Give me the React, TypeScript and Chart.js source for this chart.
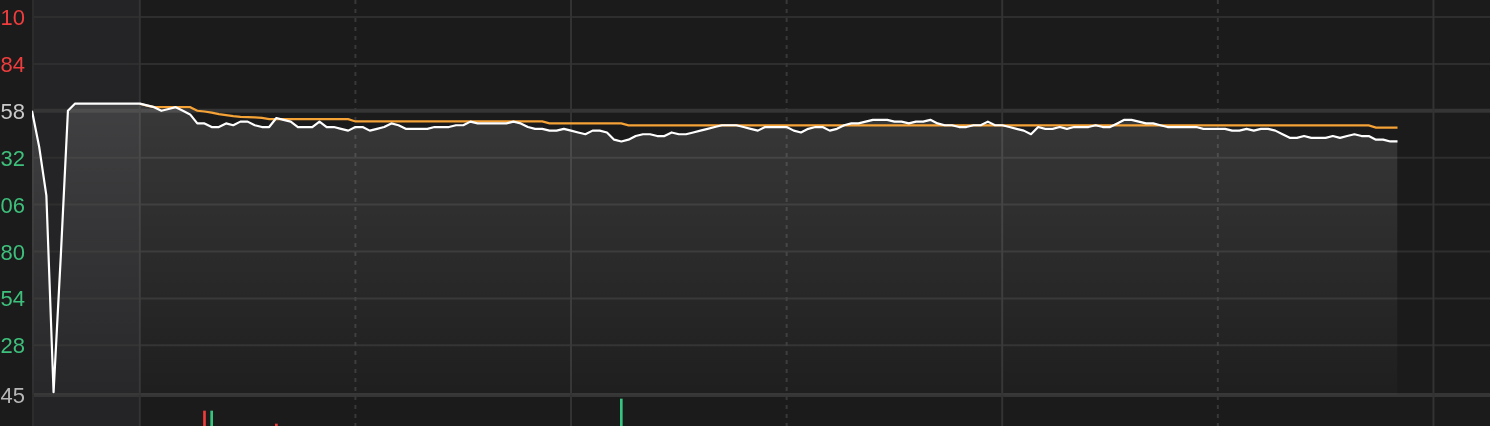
import React, { useEffect, useRef } from "react";
import { Chart, registerables } from "chart.js";

Chart.register(...registerables);

// ---- axis / tick data ----
const PRICE_TICKS = [13.1, 12.84, 12.58, 12.32, 12.06, 11.8, 11.54, 11.28, 11.005];
const PRICE_TICK_LABELS = ["10", "84", "58", "32", "06", "80", "54", "28", "45"];
const PRICE_TICK_COLORS = [
  "#ef3d3d", "#ef3d3d", "#c9c9c9", "#3ec07c", "#3ec07c",
  "#3ec07c", "#3ec07c", "#3ec07c", "#b8b8b8",
];
const PREV_CLOSE = 12.58;
const PANE_BOTTOM = 11.005;
const Y_MIN = 10.8327;
const Y_MAX = 13.1942;
const X_MIN = 0; // minutes since 09:15
const X_MAX = 202.87;
const OPEN_MINUTE = 15; // 09:30
const TIME_GRID = [15, 45, 75, 105, 135, 165, 195];
const TIME_GRID_DASHED = [false, true, false, true, false, true, false];

// ---- series: one value per minute from 09:15 ----
const PRICE = [
  12.58, 12.38, 12.11, 11.02, 11.77, 12.58, 12.62, 12.62, 12.62, 12.62,
  12.62, 12.62, 12.62, 12.62, 12.62, 12.62, 12.61, 12.60, 12.58, 12.59,
  12.60, 12.58, 12.56, 12.51, 12.51, 12.49, 12.49, 12.51, 12.50, 12.52,
  12.52, 12.50, 12.49, 12.49, 12.54, 12.53, 12.52, 12.49, 12.49, 12.49,
  12.52, 12.49, 12.49, 12.48, 12.47, 12.49, 12.49, 12.47, 12.48, 12.49,
  12.51, 12.50, 12.48, 12.48, 12.48, 12.48, 12.49, 12.49, 12.49, 12.50,
  12.50, 12.52, 12.51, 12.51, 12.51, 12.51, 12.51, 12.52, 12.51, 12.49,
  12.48, 12.48, 12.47, 12.47, 12.48, 12.47, 12.46, 12.45, 12.47, 12.47,
  12.46, 12.42, 12.41, 12.42, 12.44, 12.45, 12.45, 12.44, 12.44, 12.46,
  12.45, 12.45, 12.46, 12.47, 12.48, 12.49, 12.50, 12.50, 12.50, 12.49,
  12.48, 12.47, 12.49, 12.49, 12.49, 12.49, 12.47, 12.46, 12.48, 12.49,
  12.49, 12.47, 12.48, 12.50, 12.51, 12.51, 12.52, 12.53, 12.53, 12.53,
  12.52, 12.52, 12.51, 12.52, 12.52, 12.53, 12.51, 12.50, 12.50, 12.49,
  12.49, 12.50, 12.50, 12.52, 12.50, 12.50, 12.49, 12.48, 12.47, 12.45,
  12.49, 12.48, 12.48, 12.49, 12.48, 12.49, 12.49, 12.49, 12.50, 12.49,
  12.49, 12.51, 12.53, 12.53, 12.52, 12.51, 12.51, 12.50, 12.49, 12.49,
  12.49, 12.49, 12.49, 12.48, 12.48, 12.48, 12.48, 12.47, 12.47, 12.48,
  12.47, 12.48, 12.48, 12.47, 12.45, 12.43, 12.43, 12.44, 12.43, 12.43,
  12.43, 12.44, 12.43, 12.44, 12.45, 12.44, 12.44, 12.42, 12.42, 12.41,
  12.41,
];

// average price, one value per minute from 09:30
const AVG = [
  12.619, 12.609, 12.600, 12.600, 12.600, 12.600, 12.600, 12.600, 12.580, 12.576,
  12.570, 12.562, 12.556, 12.550, 12.546, 12.545, 12.543, 12.541, 12.534, 12.534,
  12.534, 12.534, 12.534, 12.534, 12.534, 12.534, 12.534, 12.534, 12.534, 12.534,
  12.521, 12.521, 12.521, 12.521, 12.521, 12.521, 12.521, 12.521, 12.521, 12.521,
  12.521, 12.521, 12.521, 12.521, 12.521, 12.521, 12.521, 12.521, 12.521, 12.521,
  12.521, 12.521, 12.521, 12.521, 12.521, 12.521, 12.521, 12.510, 12.510, 12.510,
  12.510, 12.510, 12.510, 12.510, 12.510, 12.510, 12.510, 12.510, 12.499, 12.499,
  12.499, 12.499, 12.499, 12.499, 12.499, 12.499, 12.499, 12.499, 12.499, 12.499,
  12.499, 12.499, 12.499, 12.499, 12.499, 12.499, 12.499, 12.499, 12.499, 12.499,
  12.499, 12.499, 12.499, 12.499, 12.499, 12.499, 12.499, 12.499, 12.499, 12.499,
  12.499, 12.499, 12.499, 12.499, 12.499, 12.499, 12.499, 12.499, 12.499, 12.499,
  12.499, 12.499, 12.499, 12.499, 12.499, 12.499, 12.499, 12.499, 12.499, 12.499,
  12.499, 12.499, 12.499, 12.499, 12.499, 12.499, 12.499, 12.499, 12.499, 12.499,
  12.499, 12.499, 12.499, 12.499, 12.499, 12.499, 12.499, 12.499, 12.499, 12.499,
  12.499, 12.499, 12.499, 12.499, 12.499, 12.499, 12.499, 12.499, 12.499, 12.499,
  12.499, 12.499, 12.499, 12.499, 12.499, 12.499, 12.499, 12.499, 12.499, 12.499,
  12.499, 12.499, 12.499, 12.499, 12.499, 12.499, 12.499, 12.499, 12.499, 12.499,
  12.499, 12.499, 12.487, 12.487, 12.487, 12.487,
];

// volume bars (minute, value, up/down)
const VOL_MINUTES = [24, 25, 34, 82];
const VOL_VALUES = [300, 300, 40, 540];
const VOL_UP = [true, false, true, false];
const VOL_MAX = 8520;

const bgPlugin = {
  id: "bgGrid",
  beforeDraw(chart: any) {
    const { ctx, width, height, chartArea, scales } = chart;
    const x = scales.x;
    const y = scales.y;
    ctx.save();
    ctx.fillStyle = "#1b1b1b";
    ctx.fillRect(0, 0, width, height);
    const x0 = x.getPixelForValue(X_MIN);
    const x1 = x.getPixelForValue(OPEN_MINUTE);
    ctx.fillStyle = "#242426";
    ctx.fillRect(x0, 0, x1 - x0, height);

    // horizontal grid
    PRICE_TICKS.forEach((v) => {
      const py = y.getPixelForValue(v);
      const thick = v === PREV_CLOSE || v === PANE_BOTTOM;
      ctx.strokeStyle = thick ? "#353535" : "#2e2e2e";
      ctx.lineWidth = thick ? 4 : 2;
      ctx.setLineDash([]);
      ctx.beginPath();
      ctx.moveTo(chartArea.left, py);
      ctx.lineTo(chartArea.right, py);
      ctx.stroke();
    });

    // vertical grid
    TIME_GRID.forEach((m, i) => {
      const px = x.getPixelForValue(m);
      const dashed = TIME_GRID_DASHED[i];
      ctx.strokeStyle = dashed ? "#383838" : "#333333";
      ctx.lineWidth = 2;
      ctx.setLineDash(dashed ? [4, 5] : []);
      ctx.beginPath();
      ctx.moveTo(px, 0);
      ctx.lineTo(px, height);
      ctx.stroke();
    });

    // left border
    ctx.setLineDash([]);
    ctx.strokeStyle = "#2c2c2c";
    ctx.lineWidth = 2;
    ctx.beginPath();
    ctx.moveTo(x0 + 1, 0);
    ctx.lineTo(x0 + 1, height);
    ctx.stroke();
    ctx.restore();
  },
};

export default function App() {
  const ref = useRef<HTMLCanvasElement | null>(null);

  useEffect(() => {
    document.body.style.margin = "0";
    document.body.style.background = "#1b1b1b";
    const canvas = ref.current;
    if (!canvas) return;

    const topPrice = Math.max(...PRICE);
    const chart = new Chart(canvas, {
      type: "line",
      data: {
        datasets: [
          {
            label: "price",
            data: PRICE.map((p, i) => ({ x: X_MIN + i, y: p })),
            borderColor: "#ffffff",
            borderWidth: 2.2,
            pointRadius: 0,
            tension: 0,
            borderJoinStyle: "round",
            fill: { value: PANE_BOTTOM },
            backgroundColor: (c: any) => {
              const ch = c.chart;
              if (!ch.chartArea) return "rgba(255,255,255,0.08)";
              const yS = ch.scales.y;
              const g = ch.ctx.createLinearGradient(
                0,
                yS.getPixelForValue(topPrice),
                0,
                yS.getPixelForValue(PANE_BOTTOM)
              );
              g.addColorStop(0, "rgba(255,255,255,0.13)");
              g.addColorStop(1, "rgba(255,255,255,0.015)");
              return g;
            },
            yAxisID: "y",
            order: 0,
          } as any,
          {
            label: "avg",
            data: AVG.map((p, i) => ({ x: OPEN_MINUTE + i, y: p })),
            borderColor: "#f5a236",
            borderWidth: 2.2,
            pointRadius: 0,
            tension: 0,
            fill: false,
            yAxisID: "y",
            order: 1,
          } as any,
          {
            type: "bar",
            label: "vol",
            data: VOL_MINUTES.map((m, i) => ({ x: m, y: VOL_VALUES[i] })),
            backgroundColor: VOL_UP.map((u) => (u ? "#f03c3c" : "#36c47f")),
            barThickness: 2,
            yAxisID: "yv",
            order: 2,
          } as any,
        ],
      },
      options: {
        responsive: false,
        animation: false,
        devicePixelRatio: 1,
        layout: { padding: 0 },
        plugins: {
          legend: { display: false },
          tooltip: { enabled: false },
          filler: { drawTime: "beforeDatasetsDraw" },
        } as any,
        scales: {
          x: {
            type: "linear",
            min: X_MIN,
            max: X_MAX,
            display: false,
            offset: false,
            grid: { offset: false },
          },
          y: {
            type: "linear",
            position: "left",
            min: Y_MIN,
            max: Y_MAX,
            grid: { display: false, drawTicks: false },
            border: { display: false },
            afterBuildTicks: (s: any) => {
              s.ticks = PRICE_TICKS.map((v) => ({ value: v }));
            },
            afterFit: (s: any) => {
              s.width = 32;
              s.paddingTop = 0;
              s.paddingBottom = 0;
            },
            ticks: {
              padding: 7,
              labelOffset: 2,
              autoSkip: false,
              color: (c: any) => PRICE_TICK_COLORS[c.index] || "#c9c9c9",
              font: { family: '"Liberation Sans", Arial, sans-serif', size: 22 },
              callback: (_v: any, i: number) => PRICE_TICK_LABELS[i],
            },
          },
          yv: { type: "linear", display: false, min: 0, max: VOL_MAX },
        } as any,
      },
      plugins: [bgPlugin],
    });
    return () => chart.destroy();
  }, []);

  return (
    <canvas
      ref={ref}
      width={1490}
      height={426}
      style={{ display: "block", width: 1490, height: 426 }}
    />
  );
}
